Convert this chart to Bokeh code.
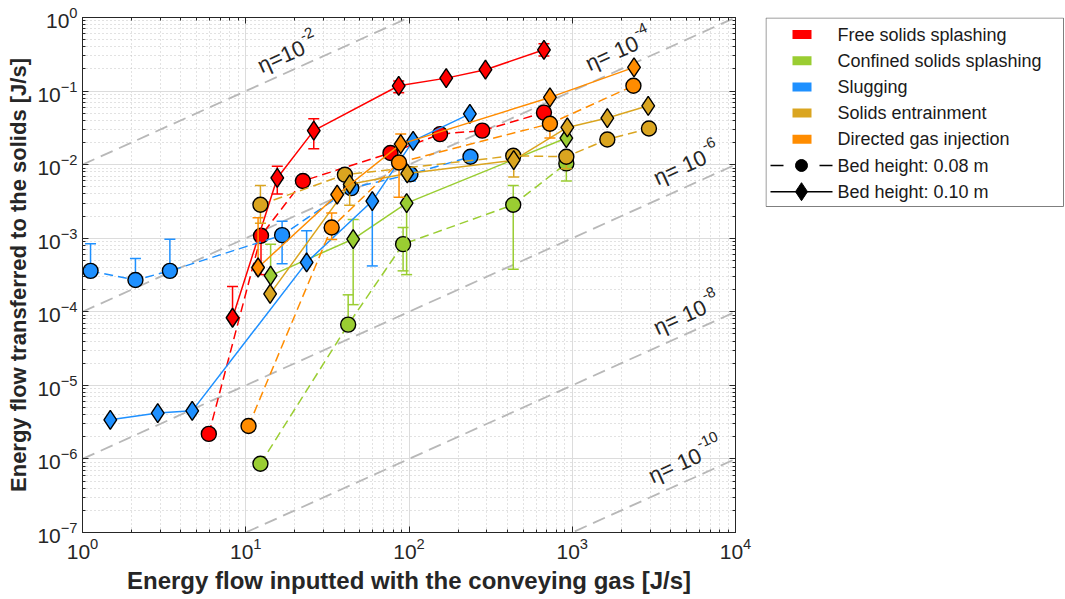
import math
from bokeh.plotting import figure
from bokeh.layouts import row
from bokeh.models import Range1d, LogAxis, FixedTicker, CustomJSTickFormatter
from bokeh.core.properties import value
from bokeh.embed import file_html
from bokeh.resources import INLINE

# ---------------- data ----------------
series_names = ["Free solids splashing", "Confined solids splashing", "Slugging",
                "Solids entrainment", "Directed gas injection"]
series_colors = ["#FF0000", "#9ACD32", "#1E90FF", "#DAA520", "#FF8C00"]
height_labels = ["Bed height: 0.08 m", "Bed height: 0.10 m"]

# Free solids splashing
free_x_08 = [5.94, 12.4, 22.4, 77, 155, 281, 671]
free_y_08 = [2.19e-6, 1.08e-3, 6.0e-3, 1.44e-2, 2.6e-2, 2.9e-2, 5.1e-2]
free_lo_08 = [None, 3.2e-4, None, None, None, None, None]
free_hi_08 = [None, None, None, None, None, None, None]
free_x_10 = [8.3, 15.6, 26.1, 86.5, 169, 294, 671]
free_y_10 = [8.3e-5, 6.6e-3, 2.9e-2, 0.118, 0.150, 0.195, 0.364]
free_lo_10 = [None, 4.0e-3, 1.64e-2, 0.095, None, None, 0.30]
free_hi_10 = [2.2e-4, 9.5e-3, 4.2e-2, 0.137, None, None, 0.44]

# Confined solids splashing
conf_x_08 = [12.3, 42.4, 92, 435, 920]
conf_y_08 = [8.6e-7, 6.7e-5, 8.3e-4, 2.85e-3, 1.04e-2]
conf_lo_08 = [None, None, 3.6e-4, 3.8e-4, 6.0e-3]
conf_hi_08 = [None, 1.7e-4, 1.4e-3, 5.2e-3, None]
conf_x_10 = [14.2, 45.5, 96.7, 920]
conf_y_10 = [3.1e-4, 9.75e-4, 3.0e-3, 2.3e-2]
conf_lo_10 = [None, 1.25e-4, 3.2e-4, None]
conf_hi_10 = [8.3e-4, 1.8e-3, None, None]

# Slugging
slug_x_08 = [1.12, 2.11, 3.43, 16.7, 44.3, 102, 238]
slug_y_08 = [3.6e-4, 2.7e-4, 3.6e-4, 1.1e-3, 4.8e-3, 7.4e-3, 1.28e-2]
slug_lo_08 = [None, None, None, 4.5e-4, None, 6.0e-3, None]
slug_hi_08 = [8.4e-4, 5.3e-4, 9.7e-4, 1.7e-3, None, None, None]
slug_x_10 = [1.48, 2.89, 4.7, 23.6, 59.6, 106, 236]
slug_y_10 = [3.4e-6, 4.2e-6, 4.5e-6, 4.7e-4, 3.2e-3, 2.1e-2, 4.9e-2]
slug_lo_10 = [None, None, None, None, 4.2e-4, None, None]
slug_hi_10 = [None, None, None, 1.26e-3, None, None, None]

# Solids entrainment
entr_x_08 = [12.3, 40.5, 435, 920, 1640, 2950]
entr_y_08 = [2.85e-3, 7.3e-3, 1.32e-2, 1.28e-2, 2.2e-2, 3.1e-2]
entr_lo_08 = [1.6e-3, None, None, 8.8e-3, 1.9e-2, None]
entr_hi_08 = [5.2e-3, None, None, None, None, None]
entr_x_10 = [14.1, 43.3, 97.6, 438, 933, 1640, 2920]
entr_y_10 = [1.75e-4, 5.4e-3, 7.6e-3, 1.15e-2, 3.2e-2, 4.3e-2, 6.3e-2]
entr_lo_10 = [None, 2.8e-3, None, 6.8e-3, None, None, None]
entr_hi_10 = [None, None, None, None, None, None, None]

# Directed gas injection
dir_x_08 = [10.4, 33.6, 86.9, 730, 2370]
dir_y_08 = [2.8e-6, 1.4e-3, 1.07e-2, 3.6e-2, 0.118]
dir_lo_08 = [None, 9.6e-4, 3.6e-3, 2.3e-2, None]
dir_hi_08 = [None, 2.2e-3, None, None, None]
dir_x_10 = [11.9, 36.3, 89, 730, 2390]
dir_y_10 = [4.0e-4, 3.9e-3, 1.9e-2, 8.2e-2, 0.21]
dir_lo_10 = [None, None, None, None, None]
dir_hi_10 = [1.9e-3, None, 2.6e-2, None, None]

# efficiency iso-lines
eta_values = [1e-2, 1e-4, 1e-6, 1e-8, 1e-10]
eta_base_text = ["η=10", "η= 10", "η= 10", "η= 10", "η= 10"]
eta_exp_text = ["-2", "-4", "-6", "-8", "-10"]
eta_label_x = [12.0, 1225, 3199, 3199, 2980]
eta_label_y = [0.214, 0.228, 6.4e-3, 5.9e-5, 5.7e-7]

x_lim = [1.0, 1e4]
y_lim = [1e-7, 1.0]
x_major = [10.0 ** k for k in range(0, 5)]
x_minor = [m * 10.0 ** k for k in range(0, 4) for m in range(2, 10)]
y_major = [10.0 ** k for k in range(-7, 1)]
y_minor = [m * 10.0 ** k for k in range(-7, 0) for m in range(2, 10)]

# ---------------- styling ----------------
FONT = "Liberation Sans"
AX = "#262626"
W_TOTAL, W_MAIN, H = 1065, 765, 599
BL, BR, BT, BB = 82, 30, 17, 67

p = figure(width=W_MAIN, height=H, x_axis_type="log", y_axis_type="log",
           x_range=Range1d(*x_lim), y_range=Range1d(*y_lim),
           output_backend="svg", toolbar_location=None,
           min_border_left=BL, min_border_right=BR, min_border_top=BT, min_border_bottom=BB)
p.outline_line_color = AX
p.background_fill_color = "white"
p.border_fill_color = "white"

xt = FixedTicker(ticks=x_major, minor_ticks=x_minor)
yt = FixedTicker(ticks=y_major, minor_ticks=y_minor)
p.xaxis.ticker = xt
p.yaxis.ticker = yt
p.xgrid.ticker = xt
p.ygrid.ticker = yt
p.grid.grid_line_color = "#dcdcdc"
p.grid.grid_line_width = 1
p.grid.minor_grid_line_color = "#c4c4c4"
p.grid.minor_grid_line_dash = "1 3"
p.grid.minor_grid_line_width = 1

p.xaxis.axis_label = "Energy flow inputted with the conveying gas [J/s]"
p.yaxis.axis_label = "Energy flow transferred to the solids [J/s]"

def style_axis(ax):
    ax.axis_line_color = AX
    ax.major_tick_line_color = AX
    ax.minor_tick_line_color = AX
    ax.major_tick_in = 6
    ax.major_tick_out = 0
    ax.minor_tick_in = 3
    ax.minor_tick_out = 0
    ax.major_label_text_font = FONT
    ax.major_label_text_font_size = "21px"
    ax.major_label_text_color = AX
    ax.axis_label_text_font = FONT
    ax.axis_label_text_font_size = "24px"
    ax.axis_label_text_font_style = "bold"
    ax.axis_label_text_color = AX

for ax in p.xaxis + p.yaxis:
    style_axis(ax)
p.yaxis.axis_label_text_font_size = "22px"
p.xaxis.major_label_standoff = 5
p.yaxis.major_label_standoff = 5
p.xaxis.axis_label_standoff = 5
p.yaxis.axis_label_standoff = 3

blank = CustomJSTickFormatter(code="return ''")
top_ax = LogAxis(ticker=xt, formatter=blank, major_label_standoff=0)
right_ax = LogAxis(ticker=yt, formatter=blank, major_label_standoff=0)
style_axis(top_ax)
style_axis(right_ax)
p.add_layout(top_ax, "above")
p.add_layout(right_ax, "right")

# iso-efficiency lines
for eta in eta_values:
    p.line(x_lim, [eta * x for x in x_lim], line_color="#b8b8b8", line_width=1.8,
           line_dash="13 7")

# eta labels: base text + superscript exponent, rotated along the lines
frame_w = W_MAIN - BL - BR
frame_h = H - BT - BB
dec_x = frame_w / math.log10(x_lim[1] / x_lim[0])
dec_y = frame_h / math.log10(y_lim[1] / y_lim[0])
ang = math.atan2(dec_y, dec_x)
BASE_PX = 22
char_w = {"η": 0.56, "=": 0.584, " ": 0.278, "1": 0.556, "0": 0.556}
for bx, by, bt, et in zip(eta_label_x, eta_label_y, eta_base_text, eta_exp_text):
    p.text(x=[bx], y=[by], text=[bt], angle=ang, text_font=value(FONT),
           text_font_size="%dpx" % BASE_PX, text_color=AX, text_align="left",
           text_baseline="alphabetic")
    w = sum(char_w[c] for c in bt) * BASE_PX + 1
    r = 10
    p.text(x=[bx], y=[by], text=[et], angle=ang, text_font=value(FONT),
           text_font_size="15px", text_color=AX, text_align="left",
           text_baseline="alphabetic",
           x_offset=w * math.cos(ang) - r * math.sin(ang),
           y_offset=-w * math.sin(ang) - r * math.cos(ang))


def draw(xs, ys, lo, hi, color, marker, dash, size):
    sx, s0, s1, cx, cy = [], [], [], [], []
    for x, y, l, h in zip(xs, ys, lo, hi):
        if l is None and h is None:
            continue
        sx.append(x)
        s0.append(l if l is not None else y)
        s1.append(h if h is not None else y)
        if l is not None:
            cx.append(x); cy.append(l)
        if h is not None:
            cx.append(x); cy.append(h)
    if sx:
        p.segment(x0=sx, y0=s0, x1=sx, y1=s1, line_color=color, line_width=1.5)
        p.scatter(cx, cy, marker="dash", size=11, line_color=color, line_width=1.5)
    p.line(xs, ys, line_color=color, line_width=1.5, line_dash=dash)
    p.scatter(xs, ys, marker=marker, size=size, fill_color=color,
              line_color="black", line_width=1.4)


groups = [
    (free_x_08, free_y_08, free_lo_08, free_hi_08, free_x_10, free_y_10, free_lo_10, free_hi_10),
    (conf_x_08, conf_y_08, conf_lo_08, conf_hi_08, conf_x_10, conf_y_10, conf_lo_10, conf_hi_10),
    (slug_x_08, slug_y_08, slug_lo_08, slug_hi_08, slug_x_10, slug_y_10, slug_lo_10, slug_hi_10),
    (entr_x_08, entr_y_08, entr_lo_08, entr_hi_08, entr_x_10, entr_y_10, entr_lo_10, entr_hi_10),
    (dir_x_08, dir_y_08, dir_lo_08, dir_hi_08, dir_x_10, dir_y_10, dir_lo_10, dir_hi_10),
]
for g, color in zip(groups, series_colors):
    draw(g[0], g[1], g[2], g[3], color, "circle", "9 5", 15)
    draw(g[4], g[5], g[6], g[7], color, "diamond", "solid", 19)

# ---------------- legend panel (ranges map to page pixels) ----------------
W_LEG = W_TOTAL - W_MAIN
lg = figure(width=W_LEG, height=H, x_range=Range1d(W_MAIN, W_TOTAL),
            y_range=Range1d(H - BB, BT), title=None,
            output_backend="svg", toolbar_location=None,
            min_border_left=0, min_border_right=0, min_border_top=BT, min_border_bottom=BB,
            x_axis_location=None, y_axis_location=None)
lg.grid.visible = False
lg.outline_line_color = None
lg.background_fill_color = "white"
lg.border_fill_color = "white"

box_l, box_r, box_t, box_b = W_MAIN + 0.5, W_TOTAL - 2, BT + 0.5, 206
lg.quad(left=[box_l], right=[box_r], top=[box_t], bottom=[box_b],
        fill_color="white", line_color="#7f7f7f", line_width=1)
row_y0, row_dy = 34, 26.2
labels = series_names + height_labels
rows_y = [row_y0 + i * row_dy for i in range(len(labels))]
n = len(series_names)
patch_l, patch_r = W_MAIN + 27, W_MAIN + 46
lg.quad(left=[patch_l] * n, right=[patch_r] * n, top=[y - 4.5 for y in rows_y[:n]],
        bottom=[y + 4.5 for y in rows_y[:n]], fill_color=series_colors, line_color=None)
y08, y10 = rows_y[n], rows_y[n + 1]
ln_l, ln_r, mk_x = W_MAIN + 5, W_MAIN + 67, W_MAIN + 36
lg.line([ln_l, ln_r], [y08, y08], line_color="black", line_width=1.5, line_dash="13 36")
lg.scatter([mk_x], [y08], marker="circle", size=12, fill_color="black", line_color="black")
lg.line([ln_l, ln_r], [y10, y10], line_color="black", line_width=1.5)
lg.scatter([mk_x], [y10], marker="diamond", size=18, fill_color="black", line_color="black")
lg.text(x=[W_MAIN + 72] * len(labels), y=rows_y, text=labels, text_font=value(FONT),
        text_font_size="18px", text_color="#1a1a1a", text_baseline="middle", text_align="left")

layout = row(p, lg, spacing=0)
open("out.html", "w").write(file_html(layout, INLINE))
